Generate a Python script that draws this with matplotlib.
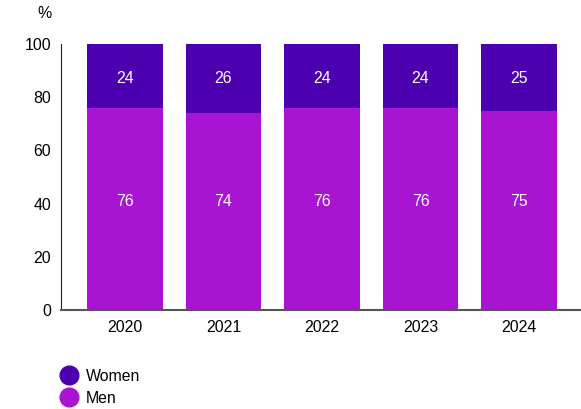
import matplotlib.pyplot as plt
from matplotlib.lines import Line2D

years = ["2020", "2021", "2022", "2023", "2024"]
men = [76, 74, 76, 76, 75]
women = [24, 26, 24, 24, 25]

men_color = "#a914d2"
women_color = "#4d00af"

plt.rcParams["font.family"] = ["Liberation Sans", "DejaVu Sans"]
plt.rcParams["font.size"] = 11.4

fig = plt.figure(figsize=(5.81, 4.09), dpi=100)
ax = fig.add_axes([61 / 581, 1 - 310 / 409, 519 / 581, 266 / 409])

x = range(len(years))
ax.bar(x, men, width=0.77, color=men_color)
ax.bar(x, women, width=0.77, bottom=men, color=women_color)

# value labels sit on two fixed rows
for i in x:
    ax.text(i, 40.8, str(men[i]), ha="center", va="center", color="white")
    ax.text(i, 87.0, str(women[i]), ha="center", va="center", color="white")

ax.set_xlim(-0.65, 4.62)
ax.set_ylim(0, 100)
ax.set_yticks([0, 20, 40, 60, 80, 100])
ax.set_xticks(list(x))
ax.set_xticklabels(years)
ax.tick_params(axis="y", length=0, pad=7)
ax.tick_params(axis="x", length=0, pad=7)
for side in ["top", "right"]:
    ax.spines[side].set_visible(False)
ax.spines["left"].set_color("#222222")
ax.spines["bottom"].set_color("#555555")
ax.spines["bottom"].set_linewidth(1.5)

fig.text(44 / 581, 1 - 14 / 409, "%", ha="center", va="center")

handles = [
    Line2D([], [], marker="o", linestyle="", markersize=13.5, color=women_color, label="Women"),
    Line2D([], [], marker="o", linestyle="", markersize=13.5, color=men_color, label="Men"),
]
fig.legend(handles=handles, loc="upper left", bbox_to_anchor=(58 / 581, 1 - 369 / 409),
           frameon=False, handletextpad=0.35, labelspacing=0.42, handlelength=1.4,
           borderaxespad=0, borderpad=0)

fig.savefig("out.png", dpi=100)
